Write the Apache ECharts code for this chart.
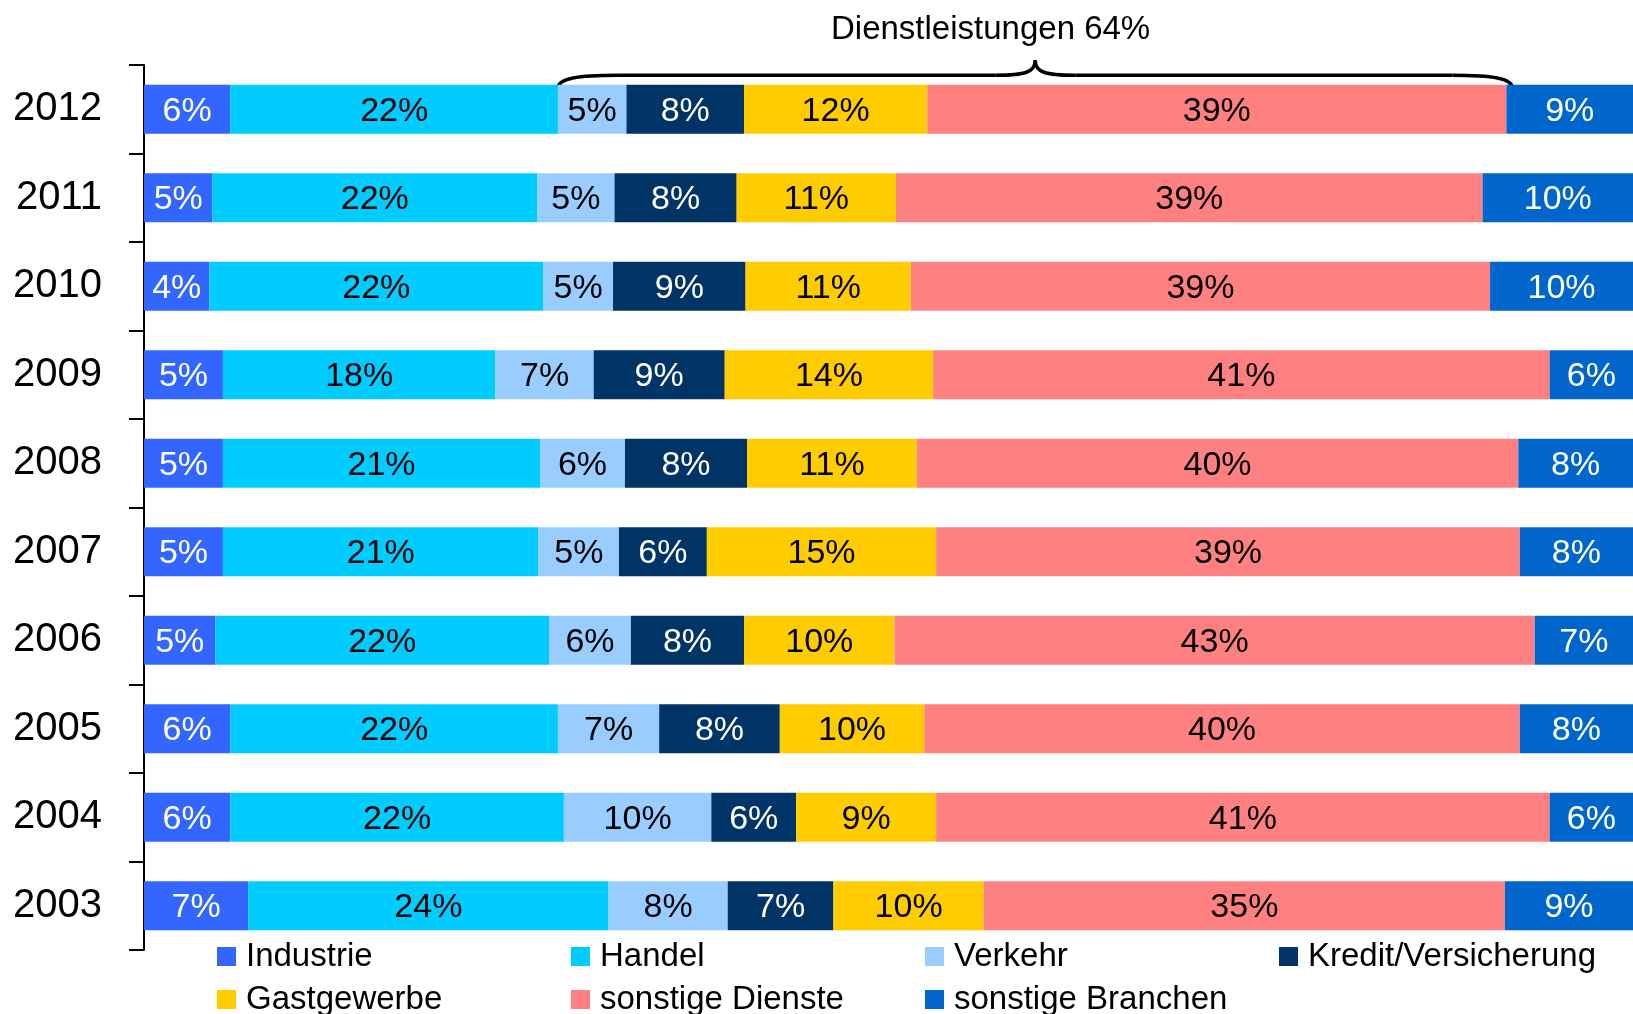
<!DOCTYPE html>
<html>
<head>
<meta charset="utf-8">
<script src="https://cdn.jsdelivr.net/npm/echarts@6/dist/echarts.min.js"></script>
<style>
  html, body { margin: 0; padding: 0; background: #fff; }
  #main { width: 1633px; height: 1014px; }
</style>
</head>
<body>
<div id="main"></div>
<script>
const years = ['2012', '2011', '2010', '2009', '2008', '2007', '2006', '2005', '2004', '2003']

const industrie = [5.8, 4.6, 4.4, 5.3, 5.3, 5.3, 4.8, 5.8, 5.8, 7.0]
const handel = [22.0, 21.8, 22.4, 18.3, 21.3, 21.2, 22.4, 22.0, 22.4, 24.2]
const verkehr = [4.6, 5.2, 4.7, 6.6, 5.7, 5.4, 5.5, 6.8, 9.9, 8.0]
const kredit = [7.9, 8.2, 8.9, 8.8, 8.2, 5.9, 7.6, 8.1, 5.7, 7.1]
const gastgewerbe = [12.3, 10.7, 11.1, 14.0, 11.4, 15.4, 10.1, 9.7, 9.4, 10.1]
const sonstigeDienste = [38.9, 39.4, 38.9, 41.4, 40.4, 39.2, 43.0, 40.0, 41.2, 35.0]
const sonstigeBranchen = [8.5, 10.1, 9.6, 5.6, 7.7, 7.6, 6.6, 7.6, 5.6, 8.6]

const seriesDefs = [
  { name: 'Industrie', data: industrie, color: '#3366FF', text: '#fff' },
  { name: 'Handel', data: handel, color: '#00CCFF', text: '#000' },
  { name: 'Verkehr', data: verkehr, color: '#99CCFF', text: '#000' },
  { name: 'Kredit/Versicherung', data: kredit, color: '#003366', text: '#fff' },
  { name: 'Gastgewerbe', data: gastgewerbe, color: '#FFCC00', text: '#000' },
  { name: 'sonstige Dienste', data: sonstigeDienste, color: '#FF8080', text: '#000' },
  { name: 'sonstige Branchen', data: sonstigeBranchen, color: '#0066CC', text: '#fff' }
]

const FONT = '"Liberation Sans", Arial, sans-serif'

const chart = echarts.init(document.getElementById('main'))

const option = {
  animation: false,
  title: {
    text: 'Dienstleistungen ' + Math.round(verkehr[0] + kredit[0] + gastgewerbe[0] + sonstigeDienste[0]) + '%',
    left: 826,
    top: 8,
    textStyle: { fontFamily: FONT, fontSize: 33, fontWeight: 'normal', color: '#000' }
  },
  legend: {
    left: 217,
    top: 935,
    width: 1420,
    padding: 0,
    itemGap: 0,
    itemWidth: 19,
    itemHeight: 19,
    icon: 'rect',
    textStyle: { fontFamily: FONT, fontSize: 33, color: '#000', width: 325, lineHeight: 43, padding: [0, 0, 0, 5] }
  },
  grid: { left: 144, right: 0, top: 65, bottom: 64 },
  xAxis: { type: 'value', min: 0, max: 100, show: false },
  yAxis: {
    type: 'category',
    data: years,
    inverse: true,
    axisLine: { show: true, lineStyle: { color: '#000', width: 2 } },
    axisTick: { show: true, length: 15, lineStyle: { color: '#000', width: 2 } },
    axisLabel: { fontFamily: FONT, fontSize: 40, color: '#000', margin: 42, padding: [4, 0, 0, 0] }
  },
  series: seriesDefs.map(s => ({
    name: s.name,
    type: 'bar',
    stack: 'total',
    barWidth: 49,
    data: s.data,
    itemStyle: { color: s.color },
    label: {
      show: true,
      position: 'inside',
      offset: [0, 2],
      fontFamily: FONT,
      fontSize: 34,
      color: s.text,
      formatter: p => Math.round(p.value) + '%'
    }
  }))
}

chart.setOption(option)

// geschweifte Klammer über den Dienstleistungen (2012)
function drawBrace() {
  const startVal = industrie[0] + handel[0]
  const endVal = startVal + verkehr[0] + kredit[0] + gastgewerbe[0] + sonstigeDienste[0]
  const p1 = chart.convertToPixel({ gridIndex: 0 }, [startVal, 0])
  const p2 = chart.convertToPixel({ gridIndex: 0 }, [endVal, 0])
  const l = p1[0]
  const r = p2[0] + 6
  const m = (l + r) / 2
  const yEnd = p1[1] - 21
  const y = yEnd - 13
  const tip = y - 15
  const style = { fill: 'none', stroke: '#000', lineWidth: 3.5 }
  const curve = (x1, y1, cx1, cy1, cx2, cy2, x2, y2) => ({
    type: 'bezierCurve',
    shape: { x1, y1, cpx1: cx1, cpy1: cy1, cpx2: cx2, cpy2: cy2, x2, y2 },
    style
  })
  const line = (x1, x2) => ({ type: 'line', shape: { x1, y1: y, x2, y2: y }, style })

  chart.setOption({
    graphic: [
      curve(l, yEnd, l, y + 3, l + 20, y, l + 60, y),
      line(l + 60, m - 40),
      curve(m - 40, y, m - 10, y, m, y - 3, m, tip),
      curve(m, tip, m, y - 3, m + 10, y, m + 40, y),
      line(m + 40, r - 60),
      curve(r - 60, y, r - 20, y, r, y + 3, r, yEnd)
    ]
  })
}

drawBrace()
</script>
</body>
</html>
